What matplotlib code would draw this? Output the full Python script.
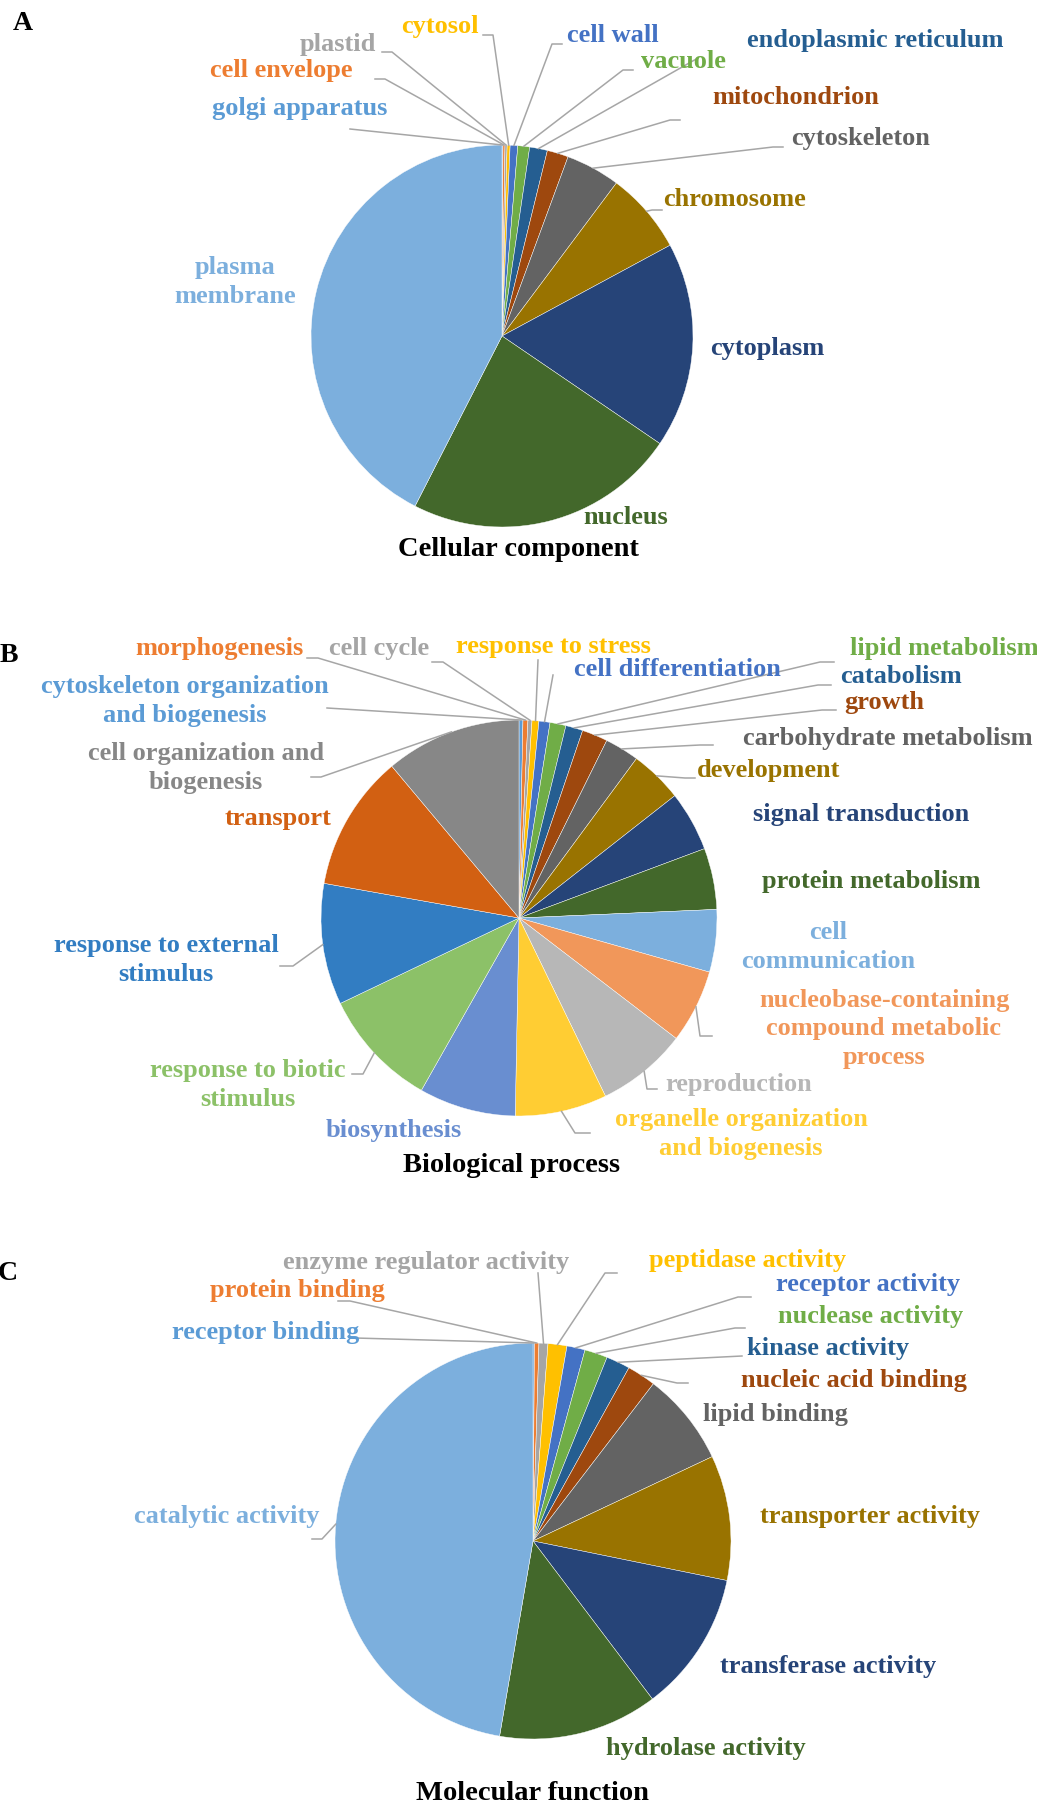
import numpy as np
import matplotlib
matplotlib.use("Agg")
import matplotlib.pyplot as plt
from matplotlib.lines import Line2D

# --- data -------------------------------------------------------------
cc_labels = ["golgi apparatus", "cell envelope", "plastid", "cytosol", "cell wall",
             "vacuole", "endoplasmic reticulum", "mitochondrion", "cytoskeleton",
             "chromosome", "cytoplasm", "nucleus", "plasma\nmembrane"]
cc_values = [0.08, 0.17, 0.18, 0.25, 0.64, 1.0, 1.5, 1.8, 4.6, 6.9, 17.4, 23.0, 42.48]

bp_labels = ["cytoskeleton organization\nand biogenesis", "morphogenesis", "cell cycle",
             "response to stress", "cell differentiation", "lipid metabolism", "catabolism",
             "growth", "carbohydrate metabolism", "development", "signal transduction",
             "protein metabolism", "cell\ncommunication",
             "nucleobase-containing\ncompound metabolic\nprocess", "reproduction",
             "organelle organization\nand biogenesis", "biosynthesis",
             "response to biotic\nstimulus", "response to external\nstimulus", "transport",
             "cell organization and\nbiogenesis"]
bp_values = [0.32, 0.4, 0.33, 0.56, 0.9, 1.3, 1.4, 2.1, 2.8, 4.3, 4.9, 5.0, 5.1,
             6.0, 7.4, 7.5, 7.9, 9.7, 9.9, 11.1, 11.1]

mf_labels = ["receptor binding", "protein binding", "enzyme regulator activity",
             "peptidase activity", "receptor activity", "nuclease activity",
             "kinase activity", "nucleic acid binding", "lipid binding",
             "transporter activity", "transferase activity", "hydrolase activity",
             "catalytic activity"]
mf_values = [0.12, 0.36, 0.73, 1.54, 1.48, 1.87, 1.95, 2.35, 7.6, 10.2, 11.5, 13.0, 47.3]

# office palette
palette = ["#5B9BD5", "#ED7D31", "#A5A5A5", "#FFC000", "#4472C4", "#70AD47",
           "#255E91", "#9E480E", "#636363", "#997300", "#264478", "#43682B",
           "#7CAFDD", "#F1975A", "#B7B7B7", "#FFCD33", "#698ED0", "#8CC168",
           "#327DC2", "#D26012", "#878787"]

W, H = 1037, 1805
fig = plt.figure(figsize=(W / 100, H / 100), dpi=100)
FONT = "Liberation Serif"
LSIZE = 19
LEAD = "#A6A6A6"


def fx(px, py):
    return px / W, 1 - py / H


def draw_pie(values, labels, cx, cy, r, label_pos, leaders, title, title_pos, letter, letter_pos):
    L = r * 1.05
    ax = fig.add_axes([(cx - L) / W, 1 - (cy + L) / H, 2 * L / W, 2 * L / H])
    cols = palette[:len(values)]
    ax.pie(values, colors=cols, startangle=90, counterclock=False, radius=1,
           wedgeprops=dict(edgecolor="white", linewidth=0.3))
    ax.set_xlim(-L / r, L / r)
    ax.set_ylim(-L / r, L / r)
    ax.axis("off")

    total = float(sum(values))
    cum = np.cumsum([0] + list(values))
    for i, lab in enumerate(labels):
        tx, ty = label_pos[i]
        fig.text(*fx(tx, ty), lab, ha="center", va="center", color=cols[i],
                 fontsize=LSIZE, fontweight="bold", family=FONT, linespacing=1.32)
        if leaders[i] is not None:
            mid = (cum[i] + values[i] / 2) / total * 2 * np.pi
            ex, ey = cx + r * np.sin(mid), cy - r * np.cos(mid)
            pts = list(leaders[i]) + [(ex, ey)]
            xs = [p[0] / W for p in pts]
            ys = [1 - p[1] / H for p in pts]
            fig.add_artist(Line2D(xs, ys, color=LEAD, lw=1.1, transform=fig.transFigure,
                                  zorder=0.5))
    fig.text(*fx(*title_pos), title, ha="center", va="center", color="black",
             fontsize=20.5, fontweight="bold", family=FONT)
    fig.text(*fx(*letter_pos), letter, ha="center", va="center", color="black",
             fontsize=20, fontweight="bold", family=FONT)


# --- A: cellular component ---------------------------------------------
cc_pos = [(300, 109), (281, 70), (338, 44), (440, 26), (613, 36), (683, 61), (875, 40),
          (796, 97), (861, 139), (734, 199), (767, 348), (626, 518), (235, 282)]
cc_lead = [[(350, 129)], [(375, 79), (385, 79)], [(382, 52), (392, 52)],
           [(483, 35), (493, 35)], [(562, 44), (552, 44)], [(633, 70), (623, 70)],
           [(698, 58)], [(680, 120), (670, 120)], [(783, 147), (773, 147)],
           [(662, 210), (652, 210)], None, None, None]
draw_pie(cc_values, cc_labels, 502, 336, 191, cc_pos, cc_lead,
         "Cellular component", (518, 550), "A", (23, 23))

# --- B: biological process ---------------------------------------------
bp_pos = [(185, 701), (219, 649), (379, 649), (553, 647), (677, 670), (944, 649),
          (901, 677), (884, 703), (888, 738), (769, 771), (861, 814), (871, 882),
          (828, 947), (884, 1029), (739, 1085), (741, 1134), (394, 1130), (248, 1085),
          (166, 960), (278, 819), (206, 768)]
bp_lead = [[(327, 708)], [(307, 658), (318, 658)], [(432, 662), (443, 662)],
           [(538, 660)], [(553, 675)], [(834, 662), (820, 662)], [(831, 685), (818, 685)],
           [(836, 710), (822, 710)], [(713, 745), (700, 745)], [(695, 778), (685, 778)],
           None, None, None, [(712, 1036), (700, 1036)], [(657, 1089), (647, 1089)],
           [(590, 1133), (575, 1133)], None, [(352, 1074), (363, 1074)],
           [(280, 966), (293, 966)], None, [(311, 777), (321, 777)]]
draw_pie(bp_values, bp_labels, 519, 918, 198, bp_pos, bp_lead,
         "Biological process", (512, 1166), "B", (9, 655))

# --- C: molecular function ---------------------------------------------
mf_pos = [(266, 1333), (297, 1291), (426, 1262), (748, 1261), (868, 1285), (871, 1317),
          (828, 1349), (854, 1380), (775, 1414), (870, 1516), (828, 1667), (706, 1748),
          (227, 1516)]
mf_lead = [[(355, 1338)], [(338, 1301), (350, 1301)], [(538, 1273)],
           [(617, 1273), (605, 1273)], [(751, 1297), (738, 1297)],
           [(745, 1328), (735, 1328)], [(742, 1356)], [(688, 1383), (677, 1383)],
           None, None, None, None, [(312, 1539), (322, 1539)]]
draw_pie(mf_values, mf_labels, 533, 1541, 198, mf_pos, mf_lead,
         "Molecular function", (532, 1794), "C", (8, 1274))

fig.savefig("out.png", dpi=100)
